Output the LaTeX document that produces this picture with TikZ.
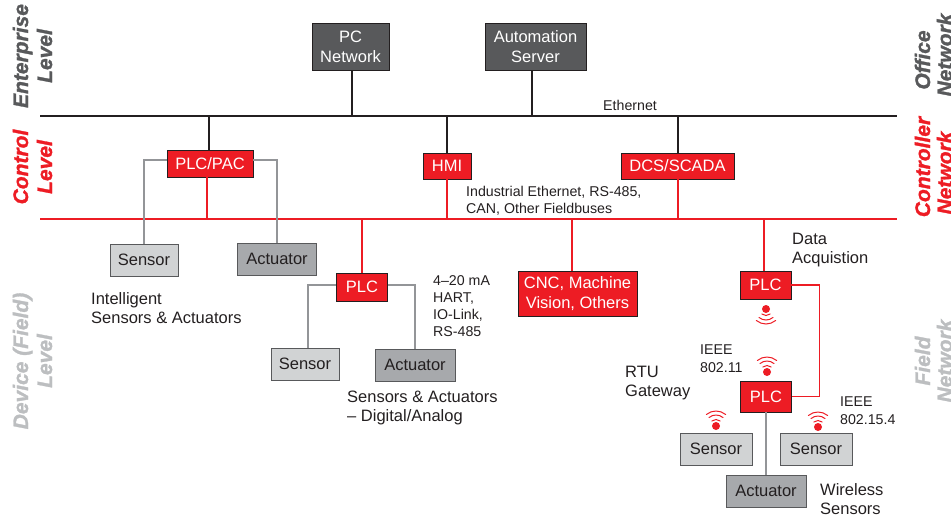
\documentclass[tikz,border=0pt]{standalone}
\usepackage{fontspec}
\setmainfont{Liberation Sans}
\newfontfamily\levelfont[BoldItalicFeatures={FakeBold=1.4}]{Liberation Sans}
\usepackage{tikz}
\usetikzlibrary{positioning, calc}
\definecolor{iso_red}{HTML}{ED1C24}
\definecolor{iso_dark}{HTML}{58595B}
\definecolor{iso_text}{HTML}{231F20}
\definecolor{iso_sensor}{HTML}{D1D3D4}
\definecolor{iso_actuator}{HTML}{A7A9AC}
\definecolor{iso_grey}{HTML}{939598}
\definecolor{iso_field}{HTML}{BCBEC0}

\begin{document}
\begin{tikzpicture}[
x=1pt, y=-1pt,
box/.style={draw=iso_text, line width=0.9pt, inner sep=0pt, align=center, font=\fontsize{16.5}{20}\selectfont},
red_box/.style={box, fill=iso_red, text=white},
dark_box/.style={box, fill=iso_dark, text=white},
sensor_box/.style={box, fill=iso_sensor, draw=iso_dark, text=iso_text, minimum width=70pt, minimum height=32pt},
actuator_box/.style={box, fill=iso_actuator, draw=iso_dark, text=iso_text, minimum width=79pt, minimum height=32pt},
note/.style={anchor=north west, inner sep=0pt, align=left, text=iso_text, font=\fontsize{16.5}{19}\selectfont},
small_note/.style={note, font=\fontsize{14.2}{17.5}\selectfont},
level/.style={rotate=90, anchor=base, inner sep=0pt, font=\levelfont\fontsize{21}{24}\selectfont\bfseries\itshape},
black_link/.style={draw=iso_text, line width=1.5pt},
red_link/.style={draw=iso_red, line width=1.5pt},
grey_link/.style={draw=iso_grey, line width=1.6pt},
wifi_dot/.style={circle, fill=iso_red, inner sep=0pt, minimum size=8pt},
wifi_arc/.style={draw=iso_red, line width=1pt, line cap=round}
]
\useasboundingbox (0,0) rectangle (951,515);

% Draw level labels on the left
    \node[level, text=iso_dark] (l_ent1) at (28,56) {Enterprise};
    \node[level, text=iso_dark] (l_ent2) at (52,56) {Level};
    \node[level, text=iso_red] (l_con1) at (28,167) {Control};
    \node[level, text=iso_red] (l_con2) at (52,167) {Level};
    \node[level, text=iso_field] (l_dev1) at (28,361) {Device (Field)};
    \node[level, text=iso_field] (l_dev2) at (52,361) {Level};
% Draw network labels on the right
    \node[level, text=iso_dark] (r_off1) at (930,60) {Office};
    \node[level, text=iso_dark] (r_off2) at (952,55) {Network};
    \node[level, text=iso_red] (r_con1) at (930,167) {Controller};
    \node[level, text=iso_red] (r_con2) at (952,173) {Network};
    \node[level, text=iso_field] (r_fld1) at (930,361) {Field};
    \node[level, text=iso_field] (r_fld2) at (952,361) {Network};

% Draw buses
    \coordinate (eth_l) at (40,116);
    \coordinate (eth_r) at (897,116);
    \coordinate (fb_l) at (40,219);
    \coordinate (fb_r) at (897,219);
    \path[black_link] (eth_l) -- (eth_r);
    \path[red_link] (fb_l) -- (fb_r);

% Draw enterprise boxes
    \node[dark_box, minimum width=77pt, minimum height=47pt] (pc) at (350.5,47) {PC\\Network};
    \node[dark_box, minimum width=101pt, minimum height=47pt] (server) at (535.5,47) {Automation\\Server};
% Draw control boxes
    \node[red_box, minimum width=86pt, minimum height=27pt] (plcpac) at (210,163.5) {PLC/PAC};
    \node[red_box, minimum width=48pt, minimum height=26pt] (hmi) at (447,166) {HMI};
    \node[red_box, minimum width=113pt, minimum height=26pt] (dcs) at (677.5,166) {DCS/SCADA};
% Draw device boxes
    \node[sensor_box, minimum width=68pt] (s1) at (144,260) {Sensor};
    \node[actuator_box] (a1) at (277,259) {Actuator};
    \node[red_box, minimum width=51pt, minimum height=28pt] (plc1) at (362,287) {PLC};
    \node[sensor_box, minimum width=68pt] (s2) at (305,364) {Sensor};
    \node[actuator_box, minimum width=80pt] (a2) at (415,365) {Actuator};
    \node[red_box, minimum width=119pt, minimum height=45pt] (cnc) at (577.5,293.5) {CNC, Machine\\Vision, Others};
    \node[red_box, minimum width=51pt, minimum height=28pt] (plc2) at (765.5,285) {PLC};
    \node[red_box, minimum width=51pt, minimum height=31pt] (plc3) at (766,396.5) {PLC};
    \node[sensor_box, minimum width=72pt] (s3) at (716,449) {Sensor};
    \node[sensor_box, minimum width=72pt] (s4) at (816,449) {Sensor};
    \node[actuator_box, minimum width=80pt] (a3) at (766,491) {Actuator};

% Draw links to the buses
    \path[black_link] (pc.south -| 352,0) -- (352,0 |- eth_l);
    \path[black_link] (server.south -| 532,0) -- (532,0 |- eth_l);
    \path[black_link] (plcpac.north -| 209,0) -- (209,0 |- eth_l);
    \path[black_link] (hmi.north) -- (hmi.north |- eth_l);
    \path[black_link] (dcs.north -| 678,0) -- (678,0 |- eth_l);
    \path[red_link] (plcpac.south -| 207,0) -- (207,0 |- fb_l);
    \path[red_link] (hmi.south) -- (hmi.south |- fb_l);
    \path[red_link] (dcs.south -| 678,0) -- (678,0 |- fb_l);
    \path[red_link] (plc1.north) -- (plc1.north |- fb_l);
    \path[red_link] (cnc.north -| 572,0) -- (572,0 |- fb_l);
    \path[red_link] (plc2.north -| 764,0) -- (764,0 |- fb_l);
% Draw links to sensors and actuators
    \path[grey_link] (plcpac.west |- 0,160) -| (s1.north);
    \path[grey_link] (plcpac.east |- 0,160) -| (a1.north);
    \path[grey_link] (plc1.west |- 0,285) -| (s2.north -| 308,0);
    \path[grey_link] (plc1.east |- 0,285) -| (a2.north);
    \path[grey_link] (plc3.south) -- (a3.north);
    \path[red_link] (plc2.east) -- ++(28,0) |- (plc3.east);

% Draw wireless signs
    \node[wifi_dot] (w1) at (766,309) {};
    \foreach \r in {6.5,11,15}
        \draw[wifi_arc] ($(w1)+(-50:\r pt)$) arc[start angle=-50, end angle=-130, radius=\r pt];
    \foreach \n/\px/\py in {w2/767/372, w3/716/426, w4/818/427} {
        \node[wifi_dot] (\n) at (\px,\py) {};
        \foreach \r in {6.5,11,15}
            \draw[wifi_arc] ($(\n)+(50:\r pt)$) arc[start angle=50, end angle=130, radius=\r pt];
    }

% Draw notes
    \node[small_note] (n_eth) at (603,100) {Ethernet};
    \node[small_note] (n_ind) at (466,186) {Industrial Ethernet, RS-485,\\CAN, Other Fieldbuses};
    \node[note] (n_data) at (792,233) {Data\\Acquistion};
    \node[note] (n_intel) at (91,292) {Intelligent\\Sensors \& Actuators};
    \node[small_note, font=\fontsize{14.2}{17}\selectfont] (n_hart) at (433,275) {4–20 mA\\HART,\\IO-Link,\\RS-485};
    \node[note] (n_dig) at (347,391) {Sensors \& Actuators\\– Digital/Analog};
    \node[note] (n_rtu) at (625,366) {RTU\\Gateway};
    \node[small_note] (n_wifi) at (700,345) {IEEE\\802.11};
    \node[small_note] (n_zig) at (840,397) {IEEE\\802.15.4};
    \node[note] (n_wless) at (820,483) {Wireless\\Sensors};
\end{tikzpicture}
\end{document}
